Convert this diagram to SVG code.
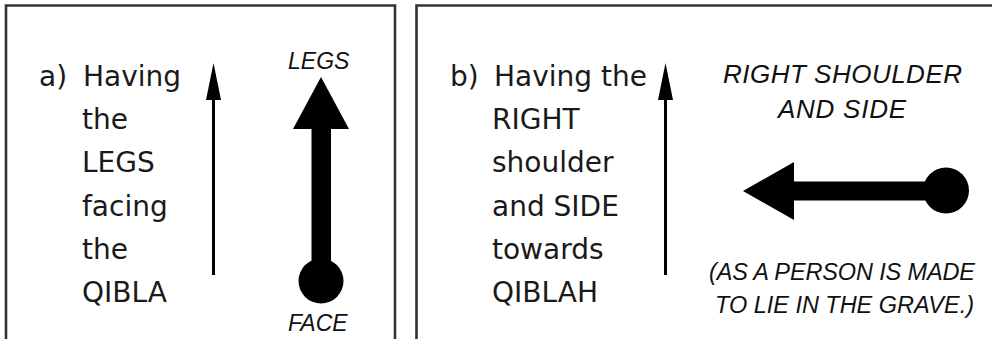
<svg xmlns="http://www.w3.org/2000/svg" width="992" height="339" viewBox="0 0 992 339">
<style>
.frame{fill:none;stroke:#333;stroke-width:2.6}
.body{font-family:"DejaVu Sans","Liberation Sans",sans-serif;font-size:28px;fill:#1a1a1a}
.lab{font-family:"Liberation Sans","DejaVu Sans",sans-serif;font-size:23.5px;font-style:italic;fill:#111}
.big{font-size:26px}
.small{font-size:23px}
.ink{fill:#000}
.thin{stroke:#000;stroke-width:3;fill:none}
</style>
<rect width="992" height="339" fill="#fff"/>
<g id="panel-a">
<path class="frame" d="M6,339 V5.5 H395 V339"/>
<text class="body" x="39" y="86">a)</text>
<text class="body" x="83" y="86">Having</text>
<text class="body" x="82" y="129">the</text>
<text class="body" x="82" y="172">LEGS</text>
<text class="body" x="82" y="216">facing</text>
<text class="body" x="82" y="259">the</text>
<text class="body" x="82" y="302">QIBLA</text>
<text class="lab small" x="288" y="69">LEGS</text>
<text class="lab small" x="288" y="331">FACE</text>
</g>
<g id="panel-b">
<path class="frame" d="M416.5,339 V5.5 H992"/>
<text class="body" x="450" y="86">b)</text>
<text class="body" x="494" y="86">Having the</text>
<text class="body" x="492" y="129">RIGHT</text>
<text class="body" x="492" y="172">shoulder</text>
<text class="body" x="492" y="216">and SIDE</text>
<text class="body" x="492" y="259">towards</text>
<text class="body" x="492" y="302">QIBLAH</text>
<text class="lab big" x="723" y="83" textLength="239">RIGHT SHOULDER</text>
<text class="lab big" x="778" y="118" textLength="128">AND SIDE</text>
<text class="lab" x="709" y="280" textLength="266">(AS A PERSON IS MADE</text>
<text class="lab" x="715" y="313" textLength="259">TO LIE IN THE GRAVE.)</text>
</g>
<g id="connectors">
<g id="qibla-arrow-a">
<line class="thin" x1="213.5" y1="98" x2="213.5" y2="275"/>
<polygon class="ink" points="213.5,63 221,100 206,100"/>
</g>
<g id="body-arrow-a">
<rect class="ink" x="311.5" y="127" width="19.5" height="156"/>
<circle class="ink" cx="321" cy="281" r="22.5"/>
<polygon class="ink" points="321,77 349,129 293,129"/>
</g>
<g id="qibla-arrow-b">
<line class="thin" x1="665.5" y1="98" x2="665.5" y2="275"/>
<polygon class="ink" points="665.5,63 673,100 658,100"/>
</g>
<g id="body-arrow-b">
<rect class="ink" x="792" y="181.5" width="155" height="19"/>
<circle class="ink" cx="946" cy="190.5" r="23"/>
<polygon class="ink" points="743,191 794,162 794,220"/>
</g>
</g>
</svg>
